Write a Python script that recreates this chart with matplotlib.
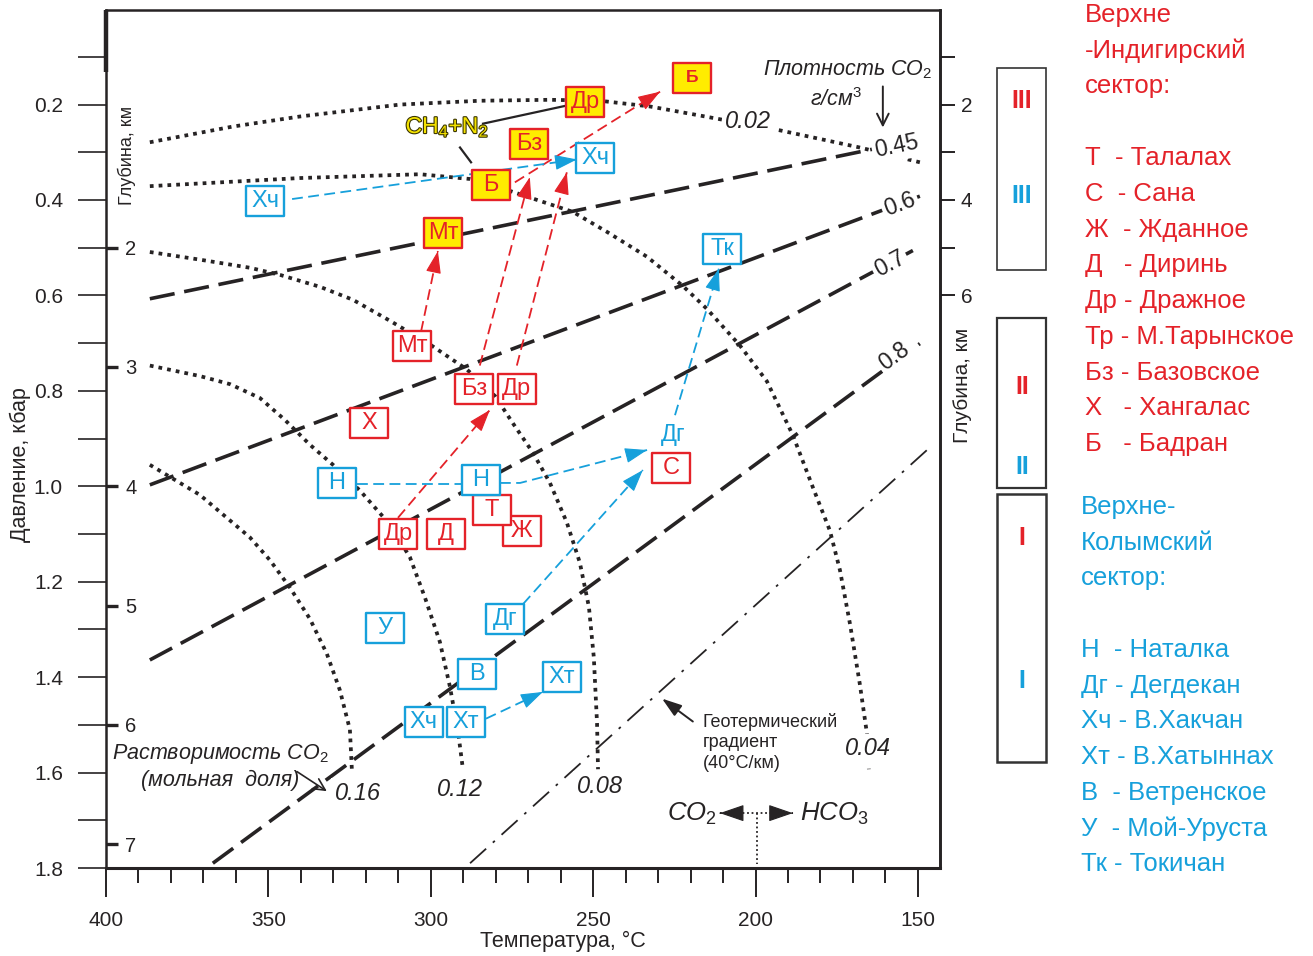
import numpy as np
import matplotlib
matplotlib.use('Agg')
import matplotlib.pyplot as plt
from matplotlib.patches import Rectangle
from matplotlib.path import Path
from matplotlib.ticker import FormatStrFormatter
import matplotlib.patheffects as pe

plt.rcParams['font.family'] = ['Liberation Sans', 'DejaVu Sans']
plt.rcParams['mathtext.fontset'] = 'custom'
plt.rcParams['mathtext.rm'] = 'Liberation Sans'
plt.rcParams['mathtext.it'] = 'Liberation Sans:italic'
plt.rcParams['mathtext.bf'] = 'Liberation Sans:bold'
plt.rcParams['axes.unicode_minus'] = False

W, H = 1313, 956
RED = '#E42229'
BLUE = '#16A0DB'
YELLOW = '#FFEC00'
INK = '#262324'

# ---------------- data ----------------
# CO2 density isochores, g/cm3 (temperature °C, pressure kbar)
iso_labels = ['0.45', '0.6', '0.7', '0.8']
iso_T = [[386.5, 149.4], [386.5, 149.4], [386.5, 149.4], [367.1, 149.4]]
iso_P = [[0.607, 0.273], [0.997, 0.392], [1.364, 0.498], [1.790, 0.701]]
iso_lab_T = [156.5, 155.5, 158.6, 157.2]
iso_lab_P = [0.288, 0.410, 0.534, 0.728]

# CO2 solubility curves (mole fraction)
sol_labels = ['0.02', '0.04', '0.08', '0.12', '0.16']
sol_T = [
    [386.5, 360.9, 340.3, 309.5, 284.9, 263.3, 247.9, 232.5, 217.1, 192.5, 167.9, 149.4],
    [386.5, 340.3, 303.3, 287.9, 275.6, 256.2, 245.7, 233.4, 222.4, 215.0, 204.8, 196.5,
     188.5, 182.3, 177.1, 174.0, 170.9, 167.9, 165.7, 165.1],
    [386.5, 371.1, 355.7, 346.4, 334.1, 324.0, 312.6, 300.2, 288.9, 280.2, 274.7, 268.5,
     263.3, 258.1, 254.1, 251.3, 249.8, 248.8, 248.5],
    [386.5, 371.1, 361.8, 352.6, 344.9, 337.2, 330.1, 321.8, 312.6, 306.4, 301.8, 297.2,
     294.1, 291.6, 290.1],
    [386.5, 371.1, 355.7, 349.5, 343.4, 337.2, 332.0, 328.0, 324.9, 324.3],
]
sol_P = [
    [0.279, 0.246, 0.225, 0.200, 0.192, 0.190, 0.192, 0.204, 0.223, 0.254, 0.290, 0.321],
    [0.371, 0.354, 0.346, 0.356, 0.381, 0.425, 0.467, 0.519, 0.580, 0.628, 0.705, 0.780,
     0.893, 1.003, 1.093, 1.176, 1.289, 1.414, 1.518, 1.593],
    [0.509, 0.525, 0.542, 0.557, 0.582, 0.609, 0.653, 0.703, 0.755, 0.811, 0.868, 0.930,
     0.993, 1.076, 1.160, 1.253, 1.358, 1.497, 1.593],
    [0.747, 0.769, 0.786, 0.815, 0.861, 0.913, 0.955, 1.009, 1.080, 1.149, 1.233, 1.326,
     1.420, 1.514, 1.593],
    [0.955, 1.018, 1.107, 1.155, 1.212, 1.278, 1.351, 1.427, 1.510, 1.593],
]
sol_lab_T = [202.3, 165.4, 247.9, 291.0, 322.4]
sol_lab_P = [0.235, 1.550, 1.629, 1.635, 1.643]

# geothermal gradient 40 °C/km
geo_T = [287.9, 147.2]
geo_P = [1.790, 0.924]

# deposits, Upper Indigirka sector (red)
ry_labels = ['Б', 'Др', 'Бз', 'Б', 'Мт']
ry_T = [219.6, 252.5, 269.8, 281.5, 296.2]
ry_P = [0.144, 0.194, 0.283, 0.369, 0.469]
red_labels = ['Мт', 'Бз', 'Др', 'Х', 'Др', 'Д', 'Ж', 'Т', 'С']
red_T = [305.8, 286.7, 273.5, 319.0, 310.1, 295.3, 271.9, 281.2, 226.0]
red_P = [0.707, 0.797, 0.797, 0.868, 1.101, 1.101, 1.093, 1.049, 0.961]
# deposits, Upper Kolyma sector (blue)
blue_labels = ['Хч', 'Хч', 'Тк', 'Н', 'Н', 'У', 'Дг', 'В', 'Хт', 'Хч', 'Хт']
blue_T = [351.0, 249.4, 210.3, 328.9, 284.5, 314.1, 277.2, 285.8, 259.6, 302.1, 289.2]
blue_P = [0.402, 0.313, 0.502, 0.993, 0.986, 1.297, 1.278, 1.393, 1.399, 1.493, 1.493]
free_label, free_T, free_P = 'Дг', 225.4, 0.893

# evolution arrows
red_arr_T = [[303.0, 297.8], [284.9, 269.5], [273.5, 258.1], [274.1, 229.4], [310.1, 281.8]]
red_arr_P = [[0.676, 0.507], [0.747, 0.352], [0.747, 0.342], [0.363, 0.173], [1.066, 0.840]]
blue_arr_T = [[342.7, 255.0], [278.7, 272.5, 233.4], [224.8, 211.3], [271.6, 234.7],
              [283.0, 265.5], [322.7, 290.4]]
blue_arr_P = [[0.398, 0.315], [0.993, 0.993, 0.924], [0.851, 0.544], [1.247, 0.966],
              [1.487, 1.431], [0.995, 0.995]]
blue_arr_head = [True, True, True, True, True, False]

# axes ticks
x_major = [150, 200, 250, 300, 350, 400]
x_minor = list(range(150, 401, 10))
p_major = [0.2, 0.4, 0.6, 0.8, 1.0, 1.2, 1.4, 1.6, 1.8]
p_minor = [0.1, 0.3, 0.5, 0.7, 0.9, 1.1, 1.3, 1.5, 1.7]
depth_hydro_ticks = [1, 2, 3, 4, 5, 6]
depth_hydro_labels = ['', '2', '', '4', '', '6']
depth_litho_ticks = [2, 3, 4, 5, 6, 7]

red_legend = ['Верхне', '-Индигирский', 'сектор:', '',
              'Т  - Талалах', 'С  - Сана', 'Ж  - Жданное', 'Д   - Диринь',
              'Др - Дражное', 'Тр - М.Тарынское', 'Бз - Базовское',
              'Х   - Хангалас', 'Б   - Бадран']
blue_legend = ['Верхне-', 'Колымский', 'сектор:', '',
               'Н  - Наталка', 'Дг - Дегдекан', 'Хч - В.Хакчан', 'Хт - В.Хатыннах',
               'В  - Ветренское', 'У  - Мой-Уруста', 'Тк - Токичан']

# ---------------- figure ----------------
fig = plt.figure(figsize=(W / 100, H / 100), dpi=100)
ax = fig.add_axes([106 / W, 1 - 868 / H, (940 - 106) / W, (868 - 10) / H])
ax.set_xlim(400, 143.2)
ax.set_ylim(1.7916, 0.0018)

for s in ax.spines.values():
    s.set_linewidth(1.8)
    s.set_color(INK)
ax.spines['bottom'].set_linewidth(2.2)

ax.set_xticks(x_major)
ax.set_xticks(x_minor, minor=True)
ax.set_yticks(p_major)
ax.set_yticks(p_minor, minor=True)
ax.yaxis.set_major_formatter(FormatStrFormatter('%.1f'))
ax.tick_params(axis='x', which='major', length=21, width=1.4, pad=10, labelsize=15, colors=INK)
ax.tick_params(axis='x', which='minor', length=11, width=1.4, colors=INK)
ax.tick_params(axis='y', which='both', length=20, width=1.2, pad=11, labelsize=15, colors=INK)

# hydrostatic depth (right)
sec = ax.secondary_yaxis('right', functions=(lambda p: p * 10.0, lambda d: d / 10.0))
sec.set_yticks(depth_hydro_ticks)
sec.set_yticklabels(depth_hydro_labels)
sec.tick_params(direction='out', length=11, width=1.4, pad=4, labelsize=15, colors=INK)
sec.spines['right'].set_linewidth(1.8)

# lithostatic depth (inside left)
lit = ax.secondary_yaxis(0.0, functions=(lambda p: p / 0.25, lambda d: d * 0.25))
lit.set_yticks(depth_litho_ticks)
lit.tick_params(direction='in', length=8.5, width=2.4, pad=-22, labelsize=14.5, colors=INK)
lit.spines['left'].set_visible(False)

ax.plot([0, 0], [1, 1 - 62 / 858], transform=ax.transAxes, lw=3.2, color=INK,
        clip_on=False, zorder=6, solid_capstyle='butt')

fig.text(20 / W, 1 - 465 / H, 'Давление, кбар', rotation=90, ha='center', va='center',
         fontsize=15.5, color=INK)
fig.text(563 / W, 1 - 941 / H, 'Температура, °C', ha='center', va='center',
         fontsize=15.5, color=INK)
fig.text(963 / W, 1 - 385 / H, 'Глубина, км', rotation=90, ha='center', va='center',
         fontsize=15, color=INK)
fig.text(127 / W, 1 - 155 / H, 'Глубина, км', rotation=90, ha='center', va='center',
         fontsize=13, color=INK)

# solubility curves
for T, P in zip(sol_T, sol_P):
    ax.plot(T, P, color=INK, lw=2.7, linestyle=(0, (1, 1.35)), dash_capstyle='butt',
            solid_joinstyle='round', zorder=2)

# isochores
for T, P in zip(iso_T, iso_P):
    ax.plot(T, P, color=INK, lw=2.6, linestyle=(0, (7, 2.7)), dash_capstyle='butt', zorder=2)

# geotherm
ax.plot(geo_T, geo_P, color=INK, lw=1.3, linestyle=(0, (12, 5, 1.5, 5)), zorder=2)

fig.canvas.draw()
for lab, T, P, tx, ty in zip(iso_labels, iso_T, iso_P, iso_lab_T, iso_lab_P):
    p0 = ax.transData.transform((T[0], P[0]))
    p1 = ax.transData.transform((T[1], P[1]))
    ang = np.degrees(np.arctan2(p1[1] - p0[1], p1[0] - p0[0]))
    ax.text(tx, ty, lab, fontsize=16.5, rotation=ang, ha='center', va='center', color=INK, zorder=3,
            bbox=dict(boxstyle='square,pad=0.12', fc='white', ec='none'))

for lab, tx, ty in zip(sol_labels, sol_lab_T, sol_lab_P):
    ax.text(tx, ty, lab, fontsize=17, style='italic', ha='center', va='center', color=INK,
            zorder=3, bbox=dict(boxstyle='square,pad=0.15', fc='white', ec='none'))

# arrows
def head(T, P, color, style='-|>,head_length=1.4,head_width=0.48', ms=10):
    t0 = T[-1] + 0.03 * (T[-2] - T[-1])
    p0 = P[-1] + 0.03 * (P[-2] - P[-1])
    ax.annotate('', xy=(T[-1], P[-1]), xytext=(t0, p0),
                arrowprops=dict(arrowstyle=style, color=color, lw=0.8, shrinkA=0, shrinkB=0,
                                mutation_scale=ms), zorder=4)

for T, P in zip(red_arr_T, red_arr_P):
    ax.plot(T, P, color=RED, lw=1.3, linestyle=(0, (6, 3)), zorder=4)
    head(T, P, RED)
for T, P, h in zip(blue_arr_T, blue_arr_P, blue_arr_head):
    ax.plot(T, P, color=BLUE, lw=1.3, linestyle=(0, (6, 3)), zorder=4)
    if h:
        head(T, P, BLUE)

# boxes
box = Path([(-0.65, -0.5), (0.65, -0.5), (0.65, 0.5), (-0.65, 0.5), (-0.65, -0.5)], closed=True)
ax.scatter(red_T, red_P, s=28 ** 2, marker=box, facecolor='white', edgecolor=RED,
           linewidths=1.7, zorder=5)
ax.scatter(ry_T, ry_P, s=28 ** 2, marker=box, facecolor=YELLOW, edgecolor=RED,
           linewidths=1.7, zorder=5)
ax.scatter(blue_T, blue_P, s=28 ** 2, marker=box, facecolor='white', edgecolor=BLUE,
           linewidths=1.7, zorder=5)
for lab, T, P in zip(red_labels, red_T, red_P):
    ax.text(T, P, lab, fontsize=17, color=RED, ha='center', va='center', zorder=6)
for i, (lab, T, P) in enumerate(zip(ry_labels, ry_T, ry_P)):
    if i == 0:
        ax.text(T, P, lab, fontsize=12.5, fontweight='bold', color=RED, ha='center', va='center', zorder=6)
    else:
        ax.text(T, P, lab, fontsize=17, color=RED, ha='center', va='center', zorder=6)
for lab, T, P in zip(blue_labels, blue_T, blue_P):
    ax.text(T, P, lab, fontsize=17, color=BLUE, ha='center', va='center', zorder=6)
ax.text(free_T, free_P, free_label, fontsize=17, color=BLUE, ha='center', va='center', zorder=6,
        bbox=dict(boxstyle='square,pad=0.1', fc='white', ec='none'))

# CH4+N2 annotation
ax.plot([283.9, 258.1], [0.240, 0.202], color=INK, lw=1.6, zorder=4)
ax.plot([291.0, 287.6], [0.290, 0.321], color=INK, lw=1.6, zorder=4)
ax.text(295.0, 0.246, 'CH$_4$+N$_2$', fontsize=16.5, color='#F4E200', ha='center', va='center', zorder=6,
        path_effects=[pe.Stroke(linewidth=1.6, foreground='#3a3500'), pe.Normal()])

# density title
ax.text(197.7, 0.127, 'Плотность CO$_2$', fontsize=15.5, style='italic', ha='left', va='center',
        color=INK, zorder=6)
ax.text(175.2, 0.190, 'г/см$^3$', fontsize=15.5, style='italic', ha='center', va='center',
        color=INK, zorder=6)
ax.annotate('', xy=(160.8, 0.248), xytext=(160.8, 0.162),
            arrowprops=dict(arrowstyle='->,head_length=0.6,head_width=0.3', color=INK, lw=1.4,
                            shrinkA=0, shrinkB=0, mutation_scale=14), zorder=6)

# solubility title
ax.text(364.9, 1.562, 'Растворимость CO$_2$', fontsize=15.5, style='italic', ha='center',
        va='center', color=INK, zorder=6)
ax.text(364.9, 1.616, '(мольная  доля)', fontsize=15.5, style='italic', ha='center',
        va='center', color=INK, zorder=6)
ax.annotate('', xy=(332.0, 1.639), xytext=(341.2, 1.598),
            arrowprops=dict(arrowstyle='->,head_length=0.6,head_width=0.3', color=INK, lw=1.2,
                            shrinkA=0, shrinkB=0, mutation_scale=14), zorder=6)

# geotherm annotation
ax.text(216.2, 1.493, 'Геотермический', fontsize=13, ha='left', va='center', color=INK, zorder=6)
ax.text(216.2, 1.537, 'градиент', fontsize=13, ha='left', va='center', color=INK, zorder=6)
ax.text(216.2, 1.581, '(40°C/км)', fontsize=13, ha='left', va='center', color=INK, zorder=6)
ax.annotate('', xy=(228.8, 1.445), xytext=(219.3, 1.493),
            arrowprops=dict(arrowstyle='-|>,head_length=1.2,head_width=0.4', color=INK, lw=1.4,
                            shrinkA=0, shrinkB=0, mutation_scale=10), zorder=6)

# CO2 <-> HCO3
ax.plot([211.0, 188.5], [1.685, 1.685], color=INK, lw=1.3, linestyle=(0, (1, 1.5)), zorder=4)
ax.plot([199.6, 199.6], [1.685, 1.792], color=INK, lw=1.3, linestyle=(0, (1, 1.5)), zorder=4)
head([205.0, 211.0], [1.685, 1.685], INK, ms=11)
head([195.0, 188.5], [1.685, 1.685], INK, ms=11)
ax.text(219.6, 1.687, 'CO$_2$', fontsize=18.5, style='italic', ha='center', va='center', color=INK, zorder=6)
ax.text(175.6, 1.687, 'HCO$_3$', fontsize=18.5, style='italic', ha='center', va='center', color=INK, zorder=6)

# zone boxes
for (y0, y1, lw) in [(68, 270, 1.2), (318, 488, 1.6), (494, 762, 1.8)]:
    fig.add_artist(Rectangle((997 / W, 1 - y1 / H), 49 / W, (y1 - y0) / H, transform=fig.transFigure,
                             fill=False, ec='#333333', lw=lw))
for txt, col, yp in [('III', RED, 101), ('III', BLUE, 196), ('II', RED, 387), ('II', BLUE, 467),
                     ('I', RED, 538), ('I', BLUE, 681)]:
    fig.text(1022 / W, 1 - yp / H, txt, color=col, fontsize=18, fontweight='bold',
             ha='center', va='center')

# legends
for i, line in enumerate(red_legend):
    fig.text(1085 / W, 1 - (15 + 35.75 * i) / H, line, color=RED, fontsize=18.5, ha='left', va='center')
for i, line in enumerate(blue_legend):
    fig.text(1081 / W, 1 - (507 + 35.7 * i) / H, line, color=BLUE, fontsize=18.5, ha='left', va='center')

fig.savefig('out.png', dpi=100)
